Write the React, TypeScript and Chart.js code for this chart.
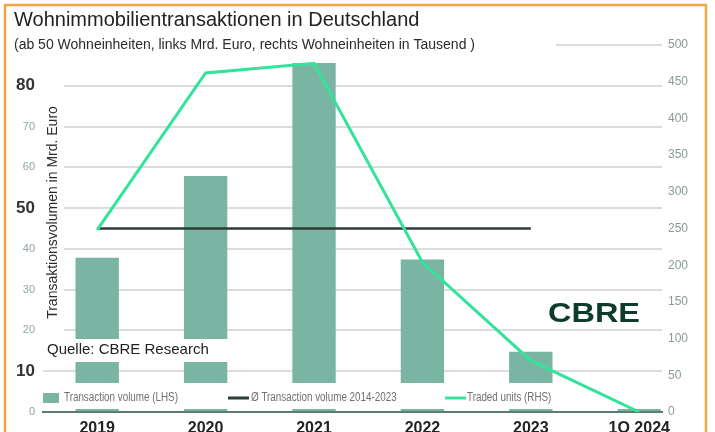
import React, { useEffect, useRef } from 'react';
import { Chart, registerables } from 'chart.js';

Chart.register(...registerables);

// ---- data ----
const categories = ['2019', '2020', '2021', '2022', '2023', '1Q 2024'];
const transactionVolume = [37.8, 57.9, 85.6, 37.4, 14.8, 1.2]; // Mrd. Euro (LHS)
const averageVolume = [45, 45, 45, 45, 45, null]; // Ø 2014-2023 (LHS)
const tradedUnits = [248, 462, 475, 204, 70, 0]; // Tausend Wohneinheiten (RHS)

const leftMax = 90;
const leftStep = 10;
const leftEmphasisTicks = [10, 50, 80];
const rightMax = 500;
const rightStep = 50;

const titleText = 'Wohnimmobilientransaktionen in Deutschland';
const subtitleText = '(ab 50 Wohneinheiten, links Mrd. Euro, rechts Wohneinheiten in Tausend )';
const yTitleText = 'Transaktionsvolumen in Mrd. Euro';
const sourceText = 'Quelle: CBRE Research';
const logoText = 'CBRE';
const legendLabels = ['Transaction volume (LHS)', 'Ø Transaction volume 2014-2023', 'Traded units (RHS)'];

// ---- styles ----
const FONT = '"Liberation Sans", Arial, Helvetica, sans-serif';
const BAR_COLOR = '#79b5a2';
const AVG_COLOR = '#2e3d37';
const UNITS_COLOR = '#33e39b';
const GRID_COLOR = '#dcdcdc';

const decorPlugin = {
  id: 'decor',
  beforeDatasetsDraw(chart: any) {
    const { ctx, chartArea: a } = chart;
    ctx.save();
    ctx.fillStyle = '#ffffff';
    ctx.fillRect(0, a.top - 9, 556, 18);
    ctx.fillRect(a.left, a.top + 34, 21, 262);

    ctx.fillStyle = '#222222';
    ctx.textBaseline = 'middle';
    ctx.textAlign = 'left';
    ctx.font = `20px ${FONT}`;
    ctx.fillText(titleText, 14, 20);
    ctx.fillStyle = '#2a2a2a';
    ctx.font = `14px ${FONT}`;
    ctx.fillText(subtitleText, 14, a.top);

    ctx.save();
    ctx.translate(a.left + 10, (a.top + a.bottom) / 2 - 16);
    ctx.rotate(-Math.PI / 2);
    ctx.textAlign = 'center';
    ctx.fillStyle = '#2a2a2a';
    ctx.font = `14px ${FONT}`;
    ctx.fillText(yTitleText, 0, 0);
    ctx.restore();
    ctx.restore();
  },
  afterDatasetDraw(chart: any, args: any) {
    if (args.index !== 0) return;
    const { ctx, chartArea: a } = chart;
    ctx.save();
    ctx.fillStyle = '#ffffff';
    ctx.fillRect(a.left, a.bottom - 73, 186, 23);
    ctx.fillStyle = '#222222';
    ctx.font = `15px ${FONT}`;
    ctx.textBaseline = 'middle';
    ctx.textAlign = 'left';
    ctx.fillText(sourceText, a.left + 4, a.bottom - 62);

    ctx.fillStyle = '#ffffff';
    const bandTop = a.bottom - 29;
    ctx.fillRect(a.left, bandTop, a.right - a.left, 26);
    const ly = bandTop + 15;
    ctx.fillStyle = BAR_COLOR;
    ctx.fillRect(a.left, ly - 5, 16, 10);
    ctx.strokeStyle = AVG_COLOR;
    ctx.lineWidth = 3;
    ctx.beginPath();
    ctx.moveTo(a.left + 185, ly);
    ctx.lineTo(a.left + 206, ly);
    ctx.stroke();
    ctx.strokeStyle = UNITS_COLOR;
    ctx.beginPath();
    ctx.moveTo(a.left + 402, ly);
    ctx.lineTo(a.left + 423, ly);
    ctx.stroke();

    const textX = [a.left + 21, a.left + 208, a.left + 424];
    ctx.fillStyle = '#707070';
    ctx.font = `12px ${FONT}`;
    legendLabels.forEach((label, i) => {
      ctx.save();
      ctx.translate(textX[i], ly);
      ctx.scale(0.82, 1);
      ctx.fillText(label, 0, 0);
      ctx.restore();
    });
    ctx.restore();
  },
  afterDraw(chart: any) {
    const { ctx, chartArea: a } = chart;
    ctx.save();
    ctx.fillStyle = '#0d3c2b';
    ctx.font = `bold 28px ${FONT}`;
    ctx.textBaseline = 'alphabetic';
    ctx.textAlign = 'left';
    ctx.translate(a.right - 114, a.bottom - 90);
    ctx.scale(1.16, 1);
    ctx.fillText(logoText, 0, 0);
    ctx.restore();

    ctx.save();
    ctx.strokeStyle = '#f5a641';
    ctx.lineWidth = 2.5;
    ctx.strokeRect(5, 5, 701, 460);
    ctx.restore();
  },
};

export default function App() {
  const canvasRef = useRef<HTMLCanvasElement | null>(null);

  useEffect(() => {
    const canvas = canvasRef.current;
    if (!canvas) return;
    const chart = new Chart(canvas, {
      type: 'bar',
      data: {
        datasets: [
          {
            type: 'bar',
            label: legendLabels[0],
            data: categories.map((_, i) => ({ x: i, y: transactionVolume[i] })),
            backgroundColor: BAR_COLOR,
            borderWidth: 0,
            yAxisID: 'y',
            categoryPercentage: 1,
            barPercentage: 0.4,
            order: 3,
          } as any,
          {
            type: 'line',
            label: legendLabels[1],
            data: categories.map((_, i) => ({ x: i, y: averageVolume[i] })),
            borderColor: AVG_COLOR,
            borderWidth: 2.5,
            pointRadius: 0,
            yAxisID: 'y',
            spanGaps: false,
            order: 2,
          } as any,
          {
            type: 'line',
            label: legendLabels[2],
            data: categories.map((_, i) => ({ x: i, y: tradedUnits[i] })),
            borderColor: UNITS_COLOR,
            borderWidth: 3,
            pointRadius: 0,
            tension: 0,
            yAxisID: 'y1',
            order: 1,
          } as any,
        ],
      },
      options: {
        responsive: false,
        animation: false,
        devicePixelRatio: 1,
        layout: { padding: { top: 45, left: 0, right: 0, bottom: 0 } },
        plugins: {
          legend: { display: false },
          tooltip: { enabled: false },
          title: { display: false },
        },
        scales: {
          x: {
            type: 'linear',
            offset: false,
            min: -0.5,
            max: 5.21,
            afterBuildTicks: (axis: any) => {
              axis.ticks = categories.map((_, i) => ({ value: i }));
            },
            afterFit: (axis: any) => {
              axis.height = 20;
            },
            ticks: {
              callback: (v: any) => categories[v as number] ?? '',
              font: { family: FONT, size: 16, weight: 'bold' },
              color: '#222222',
              padding: 7,
              autoSkip: false,
              maxRotation: 0,
            },
            grid: { display: false, drawTicks: false },
            border: { display: true, color: '#5e7c70', width: 2 },
          },
          y: {
            position: 'left',
            min: 0,
            max: leftMax,
            afterFit: (axis: any) => {
              axis.width = 43;
            },
            ticks: {
              stepSize: leftStep,
              callback: (v: any) => (v === leftMax ? '' : String(v)),
              font: (ctx: any) =>
                leftEmphasisTicks.includes(ctx.tick?.value)
                  ? { family: FONT, size: 17, weight: 'bold' }
                  : { family: FONT, size: 11 },
              color: (ctx: any) => (leftEmphasisTicks.includes(ctx.tick?.value) ? '#333333' : '#8fa69a'),
              padding: 8,
            },
            grid: {
              color: (ctx: any) => (ctx.tick?.value === 0 ? 'rgba(0,0,0,0)' : GRID_COLOR),
              lineWidth: 2,
              drawTicks: false,
            },
            border: { display: false },
          },
          y1: {
            position: 'right',
            min: 0,
            max: rightMax,
            afterFit: (axis: any) => {
              axis.width = 53;
            },
            ticks: {
              stepSize: rightStep,
              font: { family: FONT, size: 12 },
              color: '#8a9a91',
              padding: 6,
            },
            grid: { display: false, drawTicks: false },
            border: { display: false },
          },
        },
      } as any,
      plugins: [decorPlugin],
    });
    return () => chart.destroy();
  }, []);

  return (
    <div style={{ position: 'absolute', left: 0, top: 0, width: 715, height: 432, background: '#ffffff' }}>
      <canvas ref={canvasRef} width={715} height={432} style={{ display: 'block' }} />
    </div>
  );
}
